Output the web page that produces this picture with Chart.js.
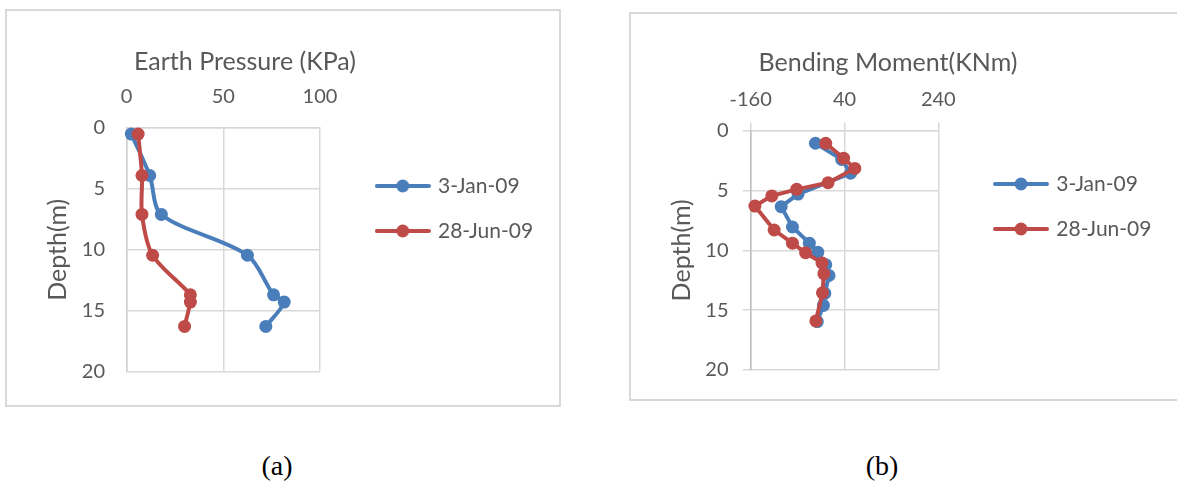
<!DOCTYPE html>
<html>
<head>
<meta charset="utf-8">
<script src="https://cdn.jsdelivr.net/npm/chart.js@4.4.0/dist/chart.umd.min.js"></script>
<style>
  body { margin: 0; background: #fff; width: 1177px; height: 485px; position: relative; overflow: hidden; }
  .frame { position: absolute; border: 2px solid #d9d9d9; box-sizing: border-box; }
  canvas { position: absolute; }
  .cap { position: absolute; font-family: "Liberation Serif", "Times New Roman", serif; font-size: 28px; color: #000; transform: translate(-50%, -50%); }
</style>
</head>
<body>
<div class="frame" style="left:5px;top:9px;width:556px;height:398px"></div>
<div class="frame" style="left:629px;top:12px;width:600px;height:389px"></div>
<canvas id="pressureChart" width="554" height="395" style="left:6px;top:10px"></canvas>
<canvas id="momentChart" width="547" height="388" style="left:630px;top:12px"></canvas>
<div class="cap" style="left:277px;top:466px">(a)</div>
<div class="cap" style="left:882px;top:466px">(b)</div>
<script>
const depthTicks = [0, 5, 10, 15, 20];
const seriesLabels = ['3-Jan-09', '28-Jun-09'];
const seriesColors = ['#4a7ebb', '#be4b48'];

// (a) earth pressure, KPa
const pressureTicks = [0, 50, 100];
const pressureDepth = [0.5, 3.9, 7.1, 10.45, 13.7, 14.3, 16.3];
const pressureJan = [2.5, 12, 18, 62.5, 76, 81.5, 72];
const pressureJun = [6, 8, 8, 13.5, 33, 33, 30];

// (b) bending moment, KNm
const momentTicks = [-160, 40, 240];
const momentDepthJan = [1.05, 2.4, 3.55, 5.3, 6.35, 8.05, 9.4, 10.15, 11.2, 12.1, 13.6, 14.6, 15.95];
const momentJan = [-22, 34, 53, -59, -95, -71, -35, -17, 0, 7, -2, -5, -18];
const momentDepthJun = [1.05, 2.3, 3.15, 4.35, 4.9, 5.45, 6.3, 8.3, 9.4, 10.2, 11.05, 11.95, 13.55, 15.9];
const momentJun = [0, 38, 62, 5, -62, -115, -151, -110, -71, -43, -8, -4, -7, -21];

const grey = '#595959';
const gridGrey = '#d9d9d9';
Chart.defaults.font.family = 'Lato';
Chart.defaults.color = grey;

// line + marker swatch for the legend
function legendIcon(color) {
  const c = document.createElement('canvas');
  c.width = 56; c.height = 16;
  const g = c.getContext('2d');
  g.strokeStyle = color; g.lineWidth = 4; g.lineCap = 'round';
  g.beginPath(); g.moveTo(2, 8); g.lineTo(54, 8); g.stroke();
  g.fillStyle = color;
  g.beginPath(); g.arc(28, 8, 6.5, 0, Math.PI * 2); g.fill();
  return c;
}

// value axis title, Excel puts it off-centre
const xTitle = {
  id: 'xTitle',
  afterDraw(chart, args, o) {
    const ctx = chart.ctx;
    ctx.save();
    ctx.font = '25px Lato';
    ctx.fillStyle = grey;
    ctx.textAlign = 'center';
    ctx.textBaseline = 'middle';
    ctx.fillText(o.text, o.x, o.y);
    ctx.restore();
  }
};

function series(values, depths, i, tension) {
  return {
    label: seriesLabels[i],
    data: values.map((v, k) => ({ x: v, y: depths[k] })),
    showLine: true,
    tension: tension,
    borderColor: seriesColors[i],
    backgroundColor: seriesColors[i],
    borderWidth: 4,
    pointRadius: 6.5,
    pointHoverRadius: 6.5,
    pointBorderWidth: 0,
    order: 1 - i,
    clip: false
  };
}

function depthChart(id, o) {
  const chart = new Chart(document.getElementById(id), {
    type: 'scatter',
    data: { datasets: o.datasets },
    options: {
      responsive: false,
      animation: false,
      layout: { padding: { top: o.top, bottom: o.bottom, left: 0, right: 0 } },
      plugins: {
        legend: {
          position: 'right',
          maxWidth: 400,
          labels: {
            color: grey,
            font: { size: 21 },
            padding: 24,
            usePointStyle: true,
            pointStyleWidth: 49.5,
            generateLabels: c => c.data.datasets.map((ds, i) => ({
              text: ds.label,
              pointStyle: legendIcon(ds.borderColor),
              fontColor: grey,
              datasetIndex: i,
              lineWidth: 0,
              hidden: false
            }))
          }
        },
        tooltip: { enabled: false },
        xTitle: o.title
      },
      scales: {
        x: {
          type: 'linear',
          position: 'top',
          min: o.ticks[0],
          max: o.ticks[o.ticks.length - 1],
          afterBuildTicks: s => { s.ticks = o.ticks.map(v => ({ value: v })); },
          ticks: { color: grey, font: { size: 20 }, padding: o.xPad, maxRotation: 0 },
          grid: { color: gridGrey, lineWidth: 1.5, drawTicks: o.tick > 0, tickLength: o.tick },
          border: { color: gridGrey, width: 1.5 },
          afterFit: s => { s.height = o.xHeight; }
        },
        y: {
          type: 'linear',
          reverse: true,
          min: 0,
          max: 20,
          afterBuildTicks: s => { s.ticks = depthTicks.map(v => ({ value: v })); },
          title: { display: true, text: 'Depth(m)', color: grey, font: { size: 25 }, padding: { top: o.yTitle, bottom: 0 } },
          ticks: { color: grey, font: { size: 20 }, padding: o.yPad },
          grid: { color: gridGrey, lineWidth: 1.5, drawTicks: o.tick > 0, tickLength: o.tick },
          border: { color: o.yBorder, width: 1.5 },
          afterFit: s => { s.width = o.yWidth; }
        },
        gap: {
          type: 'linear',
          position: 'right',
          grid: { display: false },
          border: { display: false },
          ticks: { display: false },
          afterFit: s => { s.width = 34; }
        }
      }
    },
    plugins: [xTitle]
  });
  // pin the plot's right edge
  chart.options.layout.padding.right += chart.chartArea.right - o.right;
  chart.update('none');
  return chart;
}

depthChart('pressureChart', {
  datasets: [series(pressureJan, pressureDepth, 0, 0.3), series(pressureJun, pressureDepth, 1, 0.3)],
  ticks: pressureTicks,
  title: { text: 'Earth Pressure (KPa)', x: 239, y: 52 },
  top: 30, bottom: 28, right: 314,
  xHeight: 88, xPad: 19, tick: 0,
  yWidth: 120.5, yTitle: 36.7, yPad: 21.5, yBorder: '#d0d0d0'
});

depthChart('momentChart', {
  datasets: [series(momentJan, momentDepthJan, 0, 0), series(momentJun, momentDepthJun, 1, 0)],
  ticks: momentTicks,
  title: { text: 'Bending Moment(KNm)', x: 258, y: 51 },
  top: 31, bottom: 30, right: 308.3,
  xHeight: 87.7, xPad: 10.7, tick: 8,
  yWidth: 120.7, yTitle: 37, yPad: 14.2, yBorder: '#bfbfbf'
});
</script>
</body>
</html>
